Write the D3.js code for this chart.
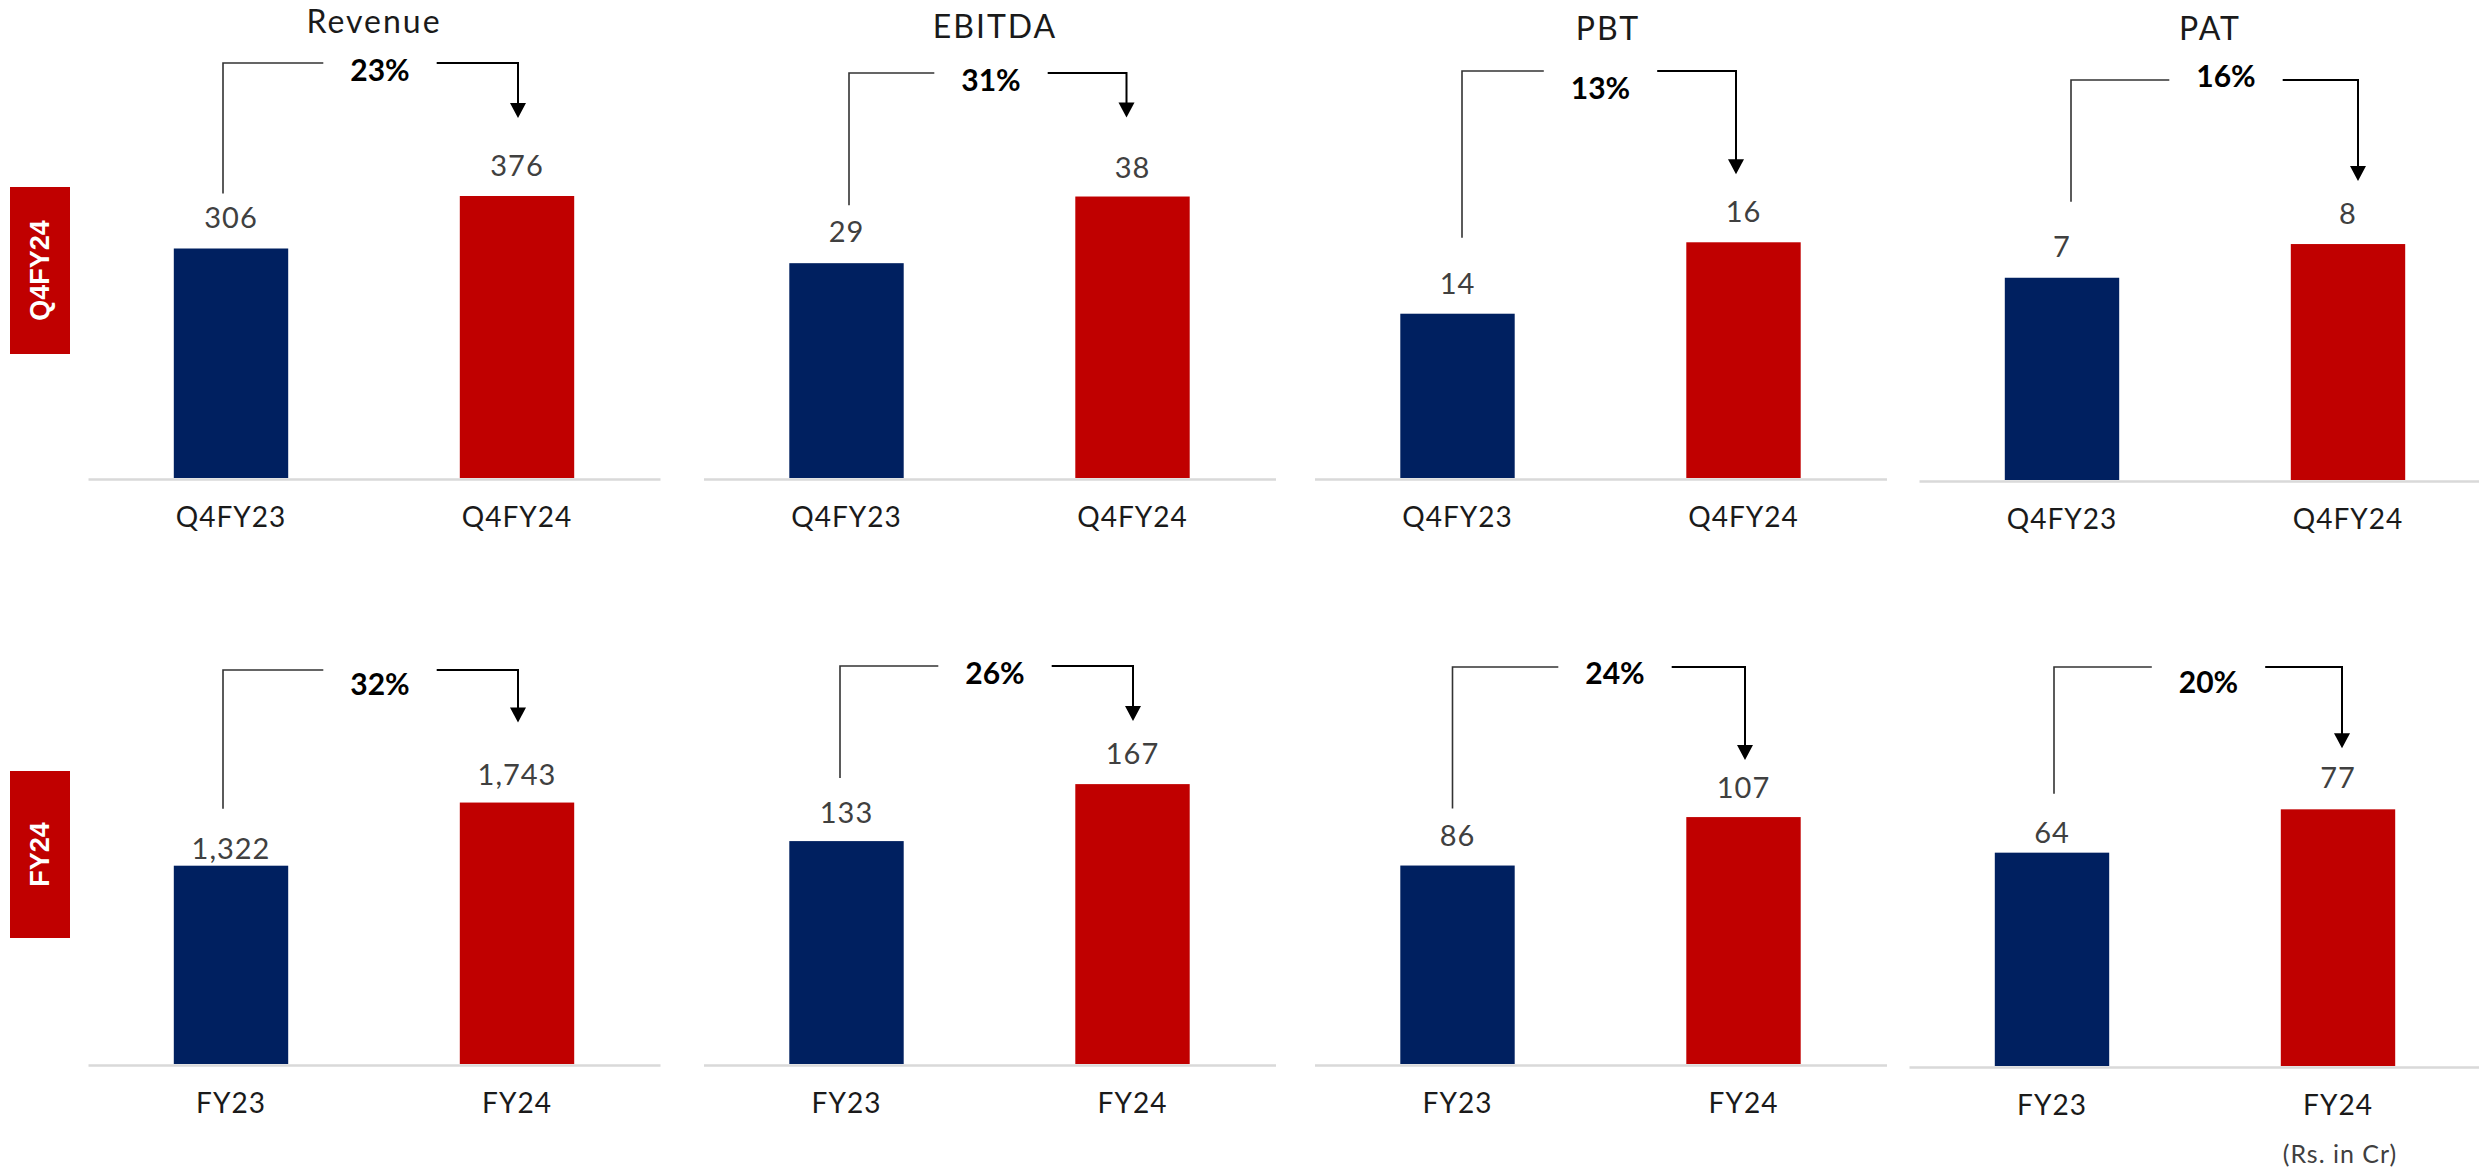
<!DOCTYPE html>
<html>
<head>
<meta charset="utf-8">
<script src="https://cdn.jsdelivr.net/npm/d3@7"></script>
<style>
  html, body { margin: 0; padding: 0; background: #ffffff; }
  svg { display: block; }
</style>
</head>
<body>
<svg id="chart" width="2479" height="1170"></svg>
<script>
// ---- data (Rs. in Cr) ----
const metrics = ["Revenue", "EBITDA", "PBT", "PAT"];
const quarterPeriods = ["Q4FY23", "Q4FY24"];
const yearPeriods = ["FY23", "FY24"];
const quarterValues = [[306, 376], [29, 38], [14, 16], [7, 8]];
const yearValues = [[1322, 1743], [133, 167], [86, 107], [64, 77]];
const quarterGrowth = ["23%", "31%", "13%", "16%"];
const yearGrowth = ["32%", "26%", "24%", "20%"];
// value-axis extents of each small chart
const quarterAxisMin = [0, 0, 9.4, 1];
const quarterAxisMax = [400, 40.5, 17.8, 9.9];
const yearAxisMin = [0, 0, 0, 0];
const yearAxisMax = [2000, 179, 130, 90];
const rowTags = ["Q4FY24", "FY24"];
const unitNote = "(Rs. in Cr)";

// ---- layout ----
const W = 2479, H = 1170;
const PLOT_H = 300;        // pixel height of each value axis
const HALF_SPAN = 286;     // half width of each category axis
const NAVY = "#002060", RED = "#c00000";
const TEXT_FONT = "Lato, 'Open Sans', 'DejaVu Sans', sans-serif";

const rows = [
  {
    tag: rowTags[0], periods: quarterPeriods, values: quarterValues, growth: quarterGrowth,
    min: quarterAxisMin, max: quarterAxisMax,
    base: 478, mids: [374, 989.5, 1600.5, 2205], baseShift: [0, 0, 0, 2], tagBox: [187, 354],
    bracketTop: [63, 73, 71, 80], leftDrop: [55, 58, 76, 76], tipDrop: [78, 79, 68, 63],
    pctDy: [18, 18, 28, 7], pctDx: [6, 1.5, 0, 21], leftDx: [-8, 2.5, 4.5, 9], rightDx: [1, -6, -7.5, 10],
    labelGap: [[21, 20], [21, 19], [19.5, 20.5], [21, 20]],
    titleY: [33, 38, 40, 40], titleDx: [0, 5.5, 7.5, 5], showTitle: true
  },
  {
    tag: rowTags[1], periods: yearPeriods, values: yearValues, growth: yearGrowth,
    min: yearAxisMin, max: yearAxisMax,
    base: 1064, mids: [374, 989.5, 1600.5, 2195], baseShift: [0, 0, 0, 2], tagBox: [771, 938],
    bracketTop: [670, 666, 667, 667], leftDrop: [57, 63, 57, 59], tipDrop: [80, 63, 57, 61],
    pctDy: [25, 17.5, 16.5, 26], pctDx: [6, 5.5, 14.5, 13.5], leftDx: [-8, -6.5, -5, 2], rightDx: [1, 0.5, 1.5, 4],
    labelGap: [[7, 18], [18, 20], [20, 19.5], [10, 21]],
    showTitle: false
  }
];

const svg = d3.select("#chart").attr("viewBox", `0 0 ${W} ${H}`);
svg.append("rect").attr("width", W).attr("height", H).attr("fill", "#ffffff");

const fmt = d3.format(",");

rows.forEach(row => {
  // red period tag on the left
  const tagH = row.tagBox[1] - row.tagBox[0];
  svg.append("rect")
    .attr("x", 10).attr("y", row.tagBox[0])
    .attr("width", 60).attr("height", tagH)
    .attr("fill", RED);
  svg.append("text")
    .attr("transform", `translate(40,${row.tagBox[0] + tagH / 2}) rotate(-90)`)
    .attr("text-anchor", "middle")
    .attr("dominant-baseline", "central")
    .attr("font-family", "'Liberation Sans', Arial, sans-serif")
    .attr("font-weight", 700)
    .attr("font-size", 27)
    .attr("fill", "#ffffff")
    .text(row.tag);

  metrics.forEach((metric, i) => {
    const mid = row.mids[i];
    const base = row.base + row.baseShift[i];
    const vals = row.values[i];

    const x = d3.scaleBand()
      .domain(row.periods)
      .range([mid - HALF_SPAN, mid + HALF_SPAN])
      .paddingInner(0.6)
      .paddingOuter(0.3);
    const y = d3.scaleLinear()
      .domain([row.min[i], row.max[i]])
      .range([base, base - PLOT_H]);

    const g = svg.append("g");

    // bars
    g.selectAll("rect.bar")
      .data(vals)
      .join("rect")
      .attr("class", "bar")
      .attr("x", (d, j) => x(row.periods[j]))
      .attr("width", x.bandwidth())
      .attr("y", d => y(d))
      .attr("height", d => y.range()[0] - y(d))
      .attr("fill", (d, j) => j === 0 ? NAVY : RED);

    // category axis
    const axis = g.append("g")
      .attr("transform", `translate(0,${base + 1})`)
      .call(d3.axisBottom(x).tickSize(0).tickSizeOuter(0).tickPadding(28));
    axis.select(".domain").attr("stroke", "#d9d9d9").attr("stroke-width", 2.5);
    axis.selectAll(".tick text")
      .attr("font-family", TEXT_FONT)
      .attr("font-size", 28)
      .attr("letter-spacing", 1)
      .attr("fill", "#1a1a1a");

    // value labels
    g.selectAll("text.val")
      .data(vals)
      .join("text")
      .attr("class", "val")
      .attr("x", (d, j) => x(row.periods[j]) + x.bandwidth() / 2)
      .attr("y", (d, j) => y(d) - row.labelGap[i][j])
      .attr("text-anchor", "middle")
      .attr("font-family", TEXT_FONT)
      .attr("font-weight", 400)
      .attr("font-size", 29)
      .attr("letter-spacing", 1)
      .attr("fill", "#404040")
      .text(d => fmt(d));

    // metric title
    if (row.showTitle) {
      svg.append("text")
        .attr("x", mid + row.titleDx[i])
        .attr("y", row.titleY[i])
        .attr("text-anchor", "middle")
        .attr("font-family", TEXT_FONT)
        .attr("font-weight", 400)
        .attr("font-size", 32)
        .attr("letter-spacing", 2)
        .attr("fill", "#1a1a1a")
        .text(metric);
    }

    // growth bracket: from the first bar, over the top, down to the second bar
    const c1 = x(row.periods[0]) + x.bandwidth() / 2 + row.leftDx[i];
    const c2 = x(row.periods[1]) + x.bandwidth() / 2 + row.rightDx[i];
    const top = row.bracketTop[i];
    const leftEnd = y(vals[0]) - row.leftDrop[i];
    const tip = y(vals[1]) - row.tipDrop[i];
    const pctX = mid + row.pctDx[i];

    const pct = g.append("text")
      .attr("x", pctX)
      .attr("y", top + row.pctDy[i])
      .attr("text-anchor", "middle")
      .attr("font-family", TEXT_FONT)
      .attr("font-weight", 700)
      .attr("font-size", 30)
      .attr("fill", "#000000")
      .text(row.growth[i]);
    const halfGap = pct.node().getBBox().width / 2 + 27;

    g.append("path")
      .attr("d", `M${c1},${leftEnd}V${top}H${pctX - halfGap}`)
      .attr("fill", "none")
      .attr("stroke", "#333333")
      .attr("stroke-width", 1.6);
    g.append("path")
      .attr("d", `M${pctX + halfGap},${top}H${c2}V${tip - 14}`)
      .attr("fill", "none")
      .attr("stroke", "#000000")
      .attr("stroke-width", 2);
    g.append("path")
      .attr("d", `M${c2 - 8},${tip - 15}L${c2 + 8},${tip - 15}L${c2},${tip}Z`)
      .attr("fill", "#000000");
  });
});

// unit note under the last chart
svg.append("text")
  .attr("x", 2340)
  .attr("y", 1163)
  .attr("text-anchor", "middle")
  .attr("font-family", TEXT_FONT)
  .attr("font-size", 25)
  .attr("letter-spacing", 1)
  .attr("fill", "#404040")
  .text(unitNote);
</script>
</body>
</html>
